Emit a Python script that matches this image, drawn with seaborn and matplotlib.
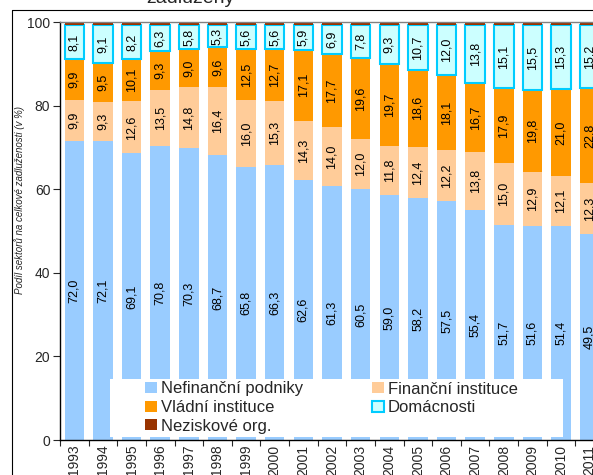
import numpy as np
import pandas as pd
import matplotlib
matplotlib.use("Agg")
import matplotlib.pyplot as plt
import seaborn as sns
from matplotlib.patches import Patch, Rectangle
from matplotlib.lines import Line2D

years = ["1993", "1994", "1995", "1996", "1997", "1998", "1999", "2000", "2001", "2002",
         "2003", "2004", "2005", "2006", "2007", "2008", "2009", "2010", "2011"]
nefinancni = [72.0, 72.1, 69.1, 70.8, 70.3, 68.7, 65.8, 66.3, 62.6, 61.3,
              60.5, 59.0, 58.2, 57.5, 55.4, 51.7, 51.6, 51.4, 49.5]
financni = [9.9, 9.3, 12.6, 13.5, 14.8, 16.4, 16.0, 15.3, 14.3, 14.0,
            12.0, 11.8, 12.4, 12.2, 13.8, 15.0, 12.9, 12.1, 12.3]
vladni = [9.9, 9.5, 10.1, 9.3, 9.0, 9.6, 12.5, 12.7, 17.1, 17.7,
          19.6, 19.7, 18.6, 18.1, 16.7, 17.9, 19.8, 21.0, 22.8]
domacnosti = [8.1, 9.1, 8.2, 6.3, 5.8, 5.3, 5.6, 5.6, 5.9, 6.9,
              7.8, 9.3, 10.7, 12.0, 13.8, 15.1, 15.5, 15.3, 15.2]
neziskove = [0.8, 0.8, 0.8, 0.8, 0.8, 0.8, 0.8, 0.8, 0.8, 0.8,
             0.8, 0.8, 0.8, 0.8, 0.8, 0.8, 0.8, 0.8, 0.8]

names = ["Nefinanční podniky", "Finanční instituce", "Vládní instituce",
         "Domácnosti", "Neziskové org."]
values = [nefinancni, financni, vladni, domacnosti, neziskove]
facecolors = ["#99CCFF", "#FFCC99", "#FF9900", "#CCFFFF", "#993300"]
edgecolors = ["none", "none", "none", "#00CCFF", "none"]
linewidths = [0, 0, 0, 1.5, 0]
show_labels = [True, True, True, True, False]

sns.set_style("ticks")
plt.rcParams["font.family"] = ["Liberation Sans", "DejaVu Sans"]

W, H = 593, 475
fig = plt.figure(figsize=(W / 100, H / 100), dpi=100)
ax = fig.add_axes([60 / W, 1 - 440 / H, 544 / W, 418 / H])

df = pd.DataFrame(dict(zip(names, values)), index=years)
shares = df.div(df.sum(axis=1), axis=0) * 100  # 100 % stacked, as in the source

bottom = np.zeros(len(years))
for name, fc, ec, lw, lab in zip(names, facecolors, edgecolors, linewidths, show_labels):
    h = shares[name].values
    sns.barplot(x=years, y=h, bottom=bottom, color=fc, saturation=1, width=0.68,
                errorbar=None, edgecolor=ec, linewidth=lw, ax=ax, zorder=2)
    if lab:
        txt = [f"{v:.1f}".replace(".", ",") for v in df[name]]
        ax.bar_label(ax.containers[-1], labels=txt, label_type="center",
                     rotation=90, fontsize=9, color="black")
    bottom = bottom + h

ax.set_xlim(-0.5, 18.5)
ax.set_ylim(0, 100)
ax.set_yticks([0, 20, 40, 60, 80, 100])
ax.tick_params(axis="y", length=5, width=0.8, pad=2, labelsize=10, direction="out")
ax.set_xticks(np.arange(-0.5, 19, 1), minor=True)
ax.tick_params(axis="x", which="major", length=0, pad=3.5, labelsize=10, labelrotation=90)
ax.tick_params(axis="x", which="minor", length=4, width=0.8, direction="out")
ax.set_xlabel("")
ax.set_ylabel("Podíl sektorů na celkové zadluženosti (v %)", fontsize=7, style="italic")
ax.yaxis.set_label_coords(-0.064, 0.574)

for s in ["left", "bottom"]:
    ax.spines[s].set_color("black")
    ax.spines[s].set_linewidth(1)
ax.spines["top"].set_visible(True)
ax.spines["top"].set_color("#808080")
ax.spines["top"].set_linewidth(1)
ax.spines["right"].set_visible(False)

# white legend panel
ax.add_patch(Rectangle((110 / W, 1 - 437 / H), (563 - 110) / W, (437 - 379) / H,
                       transform=fig.transFigure, facecolor="white", edgecolor="none",
                       zorder=4, clip_on=False))
order = [0, 2, 4, 1, 3]
handles = [Patch(facecolor=facecolors[i], edgecolor=edgecolors[i],
                 linewidth=linewidths[i], label=names[i]) for i in order]
ax.legend(handles=handles, ncol=2, loc="upper left",
          bbox_to_anchor=(145 / W, 1 - 381.5 / H), bbox_transform=fig.transFigure,
          frameon=False, fontsize=12, handlelength=0.72, handleheight=0.66,
          handletextpad=0.25, columnspacing=4.1, labelspacing=0.21,
          borderpad=0, borderaxespad=0)

# outer chart frame and the clipped title
fig.add_artist(Line2D([12 / W, 12 / W], [0, 1 - 10 / H], color="black", lw=0.8))
fig.add_artist(Line2D([12 / W, 1], [1 - 10 / H, 1 - 10 / H], color="black", lw=0.8))
fig.text(190 / W, 1 - 3 / H, "zadluženy", ha="center", va="baseline", fontsize=14)

fig.savefig("out.png", dpi=100)
